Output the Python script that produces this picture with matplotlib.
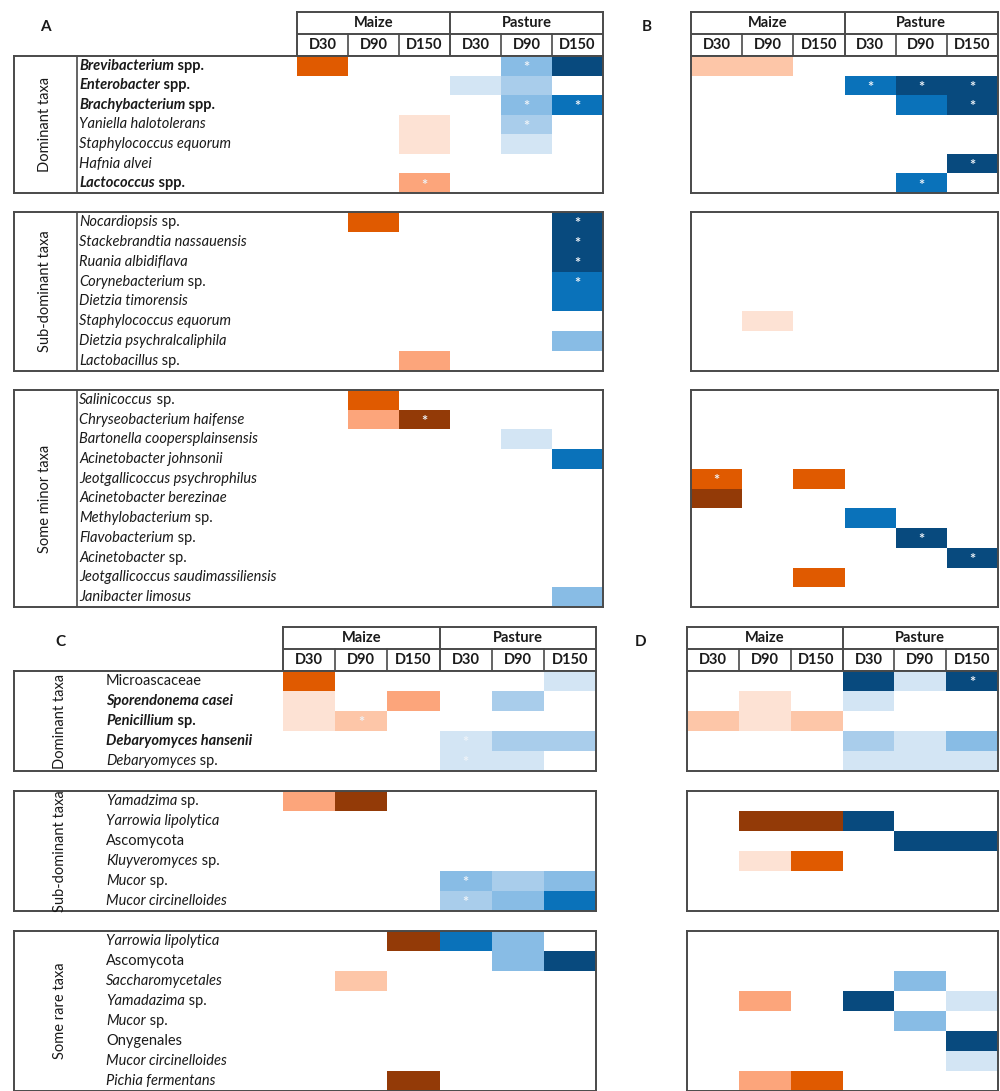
import matplotlib
matplotlib.use("Agg")
import matplotlib.pyplot as plt
from matplotlib.colors import ListedColormap, BoundaryNorm
import numpy as np

plt.rcParams['font.family'] = ['Lato', 'DejaVu Sans']

W, H = 1000, 1091
fig = plt.figure(figsize=(W / 100, H / 100), dpi=100)

# ---------------- data ----------------
conditions = ["Maize", "Pasture"]
days = ["D30", "D90", "D150", "D30", "D90", "D150"]

# level codes: negative = orange scale, positive = blue scale, 0 = blank
level_colors = ['#933A07', '#E05A00', '#FCA57B', '#FDC6A8', '#FDE2D4', '#FFFFFF',
                '#D3E5F4', '#A9CDEB', '#88BCE5', '#0A72BA', '#084A7E']

# ---- bacteria (A, B) ----
bac_dom_taxa = ["Brevibacterium spp.", "Enterobacter spp.", "Brachybacterium spp.",
                "Yaniella halotolerans", "Staphylococcus equorum", "Hafnia alvei",
                "Lactococcus spp."]
bac_dom_bold = [1, 1, 1, 0, 0, 0, 1]
A_dom_vals = [[-4, 0, 0, 0, 3, 5],
              [0, 0, 0, 1, 2, 0],
              [0, 0, 0, 0, 3, 4],
              [0, 0, -1, 0, 2, 0],
              [0, 0, -1, 0, 1, 0],
              [0, 0, 0, 0, 0, 0],
              [0, 0, -3, 0, 0, 0]]
A_dom_star = [[0, 0, 0, 0, 1, 0],
              [0, 0, 0, 0, 0, 0],
              [0, 0, 0, 0, 1, 1],
              [0, 0, 0, 0, 1, 0],
              [0, 0, 0, 0, 0, 0],
              [0, 0, 0, 0, 0, 0],
              [0, 0, 1, 0, 0, 0]]
B_dom_vals = [[-2, -2, 0, 0, 0, 0],
              [0, 0, 0, 4, 5, 5],
              [0, 0, 0, 0, 4, 5],
              [0, 0, 0, 0, 0, 0],
              [0, 0, 0, 0, 0, 0],
              [0, 0, 0, 0, 0, 5],
              [0, 0, 0, 0, 4, 0]]
B_dom_star = [[0, 0, 0, 0, 0, 0],
              [0, 0, 0, 1, 1, 1],
              [0, 0, 0, 0, 0, 1],
              [0, 0, 0, 0, 0, 0],
              [0, 0, 0, 0, 0, 0],
              [0, 0, 0, 0, 0, 1],
              [0, 0, 0, 0, 1, 0]]

bac_sub_taxa = ["Nocardiopsis sp.", "Stackebrandtia nassauensis", "Ruania albidiflava",
                "Corynebacterium sp.", "Dietzia timorensis", "Staphylococcus equorum",
                "Dietzia psychralcaliphila", "Lactobacillus sp."]
bac_sub_bold = [0] * 8
A_sub_vals = [[0, -4, 0, 0, 0, 5],
              [0, 0, 0, 0, 0, 5],
              [0, 0, 0, 0, 0, 5],
              [0, 0, 0, 0, 0, 4],
              [0, 0, 0, 0, 0, 4],
              [0, 0, 0, 0, 0, 0],
              [0, 0, 0, 0, 0, 3],
              [0, 0, -3, 0, 0, 0]]
A_sub_star = [[0, 0, 0, 0, 0, 1],
              [0, 0, 0, 0, 0, 1],
              [0, 0, 0, 0, 0, 1],
              [0, 0, 0, 0, 0, 1],
              [0, 0, 0, 0, 0, 0],
              [0, 0, 0, 0, 0, 0],
              [0, 0, 0, 0, 0, 0],
              [0, 0, 0, 0, 0, 0]]
B_sub_vals = [[0, 0, 0, 0, 0, 0],
              [0, 0, 0, 0, 0, 0],
              [0, 0, 0, 0, 0, 0],
              [0, 0, 0, 0, 0, 0],
              [0, 0, 0, 0, 0, 0],
              [0, -1, 0, 0, 0, 0],
              [0, 0, 0, 0, 0, 0],
              [0, 0, 0, 0, 0, 0]]
B_sub_star = [[0] * 6 for _ in range(8)]

bac_min_taxa = ["Salinicoccus sp.", "Chryseobacterium haifense", "Bartonella coopersplainsensis",
                "Acinetobacter johnsonii", "Jeotgallicoccus psychrophilus", "Acinetobacter berezinae",
                "Methylobacterium sp.", "Flavobacterium sp.", "Acinetobacter sp.",
                "Jeotgallicoccus saudimassiliensis", "Janibacter limosus"]
bac_min_bold = [0] * 11
A_min_vals = [[0, -4, 0, 0, 0, 0],
              [0, -3, -5, 0, 0, 0],
              [0, 0, 0, 0, 1, 0],
              [0, 0, 0, 0, 0, 4],
              [0, 0, 0, 0, 0, 0],
              [0, 0, 0, 0, 0, 0],
              [0, 0, 0, 0, 0, 0],
              [0, 0, 0, 0, 0, 0],
              [0, 0, 0, 0, 0, 0],
              [0, 0, 0, 0, 0, 0],
              [0, 0, 0, 0, 0, 3]]
A_min_star = [[0, 0, 0, 0, 0, 0],
              [0, 0, 1, 0, 0, 0]] + [[0] * 6 for _ in range(9)]
B_min_vals = [[0, 0, 0, 0, 0, 0],
              [0, 0, 0, 0, 0, 0],
              [0, 0, 0, 0, 0, 0],
              [0, 0, 0, 0, 0, 0],
              [-4, 0, -4, 0, 0, 0],
              [-5, 0, 0, 0, 0, 0],
              [0, 0, 0, 4, 0, 0],
              [0, 0, 0, 0, 5, 0],
              [0, 0, 0, 0, 0, 5],
              [0, 0, -4, 0, 0, 0],
              [0, 0, 0, 0, 0, 0]]
B_min_star = [[0, 0, 0, 0, 0, 0],
              [0, 0, 0, 0, 0, 0],
              [0, 0, 0, 0, 0, 0],
              [0, 0, 0, 0, 0, 0],
              [1, 0, 0, 0, 0, 0],
              [0, 0, 0, 0, 0, 0],
              [0, 0, 0, 0, 0, 0],
              [0, 0, 0, 0, 1, 0],
              [0, 0, 0, 0, 0, 1],
              [0, 0, 0, 0, 0, 0],
              [0, 0, 0, 0, 0, 0]]

# ---- fungi (C, D) ----
fun_dom_taxa = ["Microascaceae", "Sporendonema casei", "Penicillium sp.",
                "Debaryomyces hansenii", "Debaryomyces sp."]
fun_dom_bold = [0, 1, 1, 1, 0]
C_dom_vals = [[-4, 0, 0, 0, 0, 1],
              [-1, 0, -3, 0, 2, 0],
              [-1, -2, 0, 0, 0, 0],
              [0, 0, 0, 1, 2, 2],
              [0, 0, 0, 1, 1, 0]]
C_dom_star = [[0, 0, 0, 0, 0, 0],
              [0, 0, 0, 0, 0, 0],
              [0, 1, 0, 0, 0, 0],
              [0, 0, 0, 1, 0, 0],
              [0, 0, 0, 1, 0, 0]]
D_dom_vals = [[0, 0, 0, 5, 1, 5],
              [0, -1, 0, 1, 0, 0],
              [-2, -1, -2, 0, 0, 0],
              [0, 0, 0, 2, 1, 3],
              [0, 0, 0, 1, 1, 1]]
D_dom_star = [[0, 0, 0, 0, 0, 1]] + [[0] * 6 for _ in range(4)]

fun_sub_taxa = ["Yamadzima sp.", "Yarrowia lipolytica", "Ascomycota",
                "Kluyveromyces sp.", "Mucor sp.", "Mucor circinelloides"]
fun_sub_bold = [0] * 6
C_sub_vals = [[-3, -5, 0, 0, 0, 0],
              [0, 0, 0, 0, 0, 0],
              [0, 0, 0, 0, 0, 0],
              [0, 0, 0, 0, 0, 0],
              [0, 0, 0, 3, 2, 3],
              [0, 0, 0, 2, 3, 4]]
C_sub_star = [[0] * 6 for _ in range(4)] + [[0, 0, 0, 1, 0, 0], [0, 0, 0, 1, 0, 0]]
D_sub_vals = [[0, 0, 0, 0, 0, 0],
              [0, -5, -5, 5, 0, 0],
              [0, 0, 0, 0, 5, 5],
              [0, -1, -4, 0, 0, 0],
              [0, 0, 0, 0, 0, 0],
              [0, 0, 0, 0, 0, 0]]
D_sub_star = [[0] * 6 for _ in range(6)]

fun_rare_taxa = ["Yarrowia lipolytica", "Ascomycota", "Saccharomycetales", "Yamadazima sp.",
                 "Mucor sp.", "Onygenales", "Mucor circinelloides", "Pichia fermentans"]
fun_rare_bold = [0] * 8
C_rare_vals = [[0, 0, -5, 4, 3, 0],
               [0, 0, 0, 0, 3, 5],
               [0, -2, 0, 0, 0, 0],
               [0, 0, 0, 0, 0, 0],
               [0, 0, 0, 0, 0, 0],
               [0, 0, 0, 0, 0, 0],
               [0, 0, 0, 0, 0, 0],
               [0, 0, -5, 0, 0, 0]]
C_rare_star = [[0] * 6 for _ in range(8)]
D_rare_vals = [[0, 0, 0, 0, 0, 0],
               [0, 0, 0, 0, 0, 0],
               [0, 0, 0, 0, 3, 0],
               [0, -3, 0, 5, 0, 1],
               [0, 0, 0, 0, 3, 0],
               [0, 0, 0, 0, 0, 5],
               [0, 0, 0, 0, 0, 1],
               [0, -3, -4, 0, 0, 0]]
D_rare_star = [[0] * 6 for _ in range(8)]

upright_taxa = {"Microascaceae", "Ascomycota", "Onygenales"}

# ---------------- drawing ----------------
cmap = ListedColormap(level_colors)
norm = BoundaryNorm(np.arange(-5.5, 6.5, 1), cmap.N)
EDGE = '#4a4a4a'
TXT = '#1a1a1a'
LABEL_FS = 10.5


def px_axes(x0, y0, x1, y1):
    return fig.add_axes([x0 / W, 1 - y1 / H, (x1 - x0) / W, (y1 - y0) / H])


def draw_label(ax, x, y, name, bold):
    words = name.split(" ")
    if name in upright_taxa:
        segs = [(name, 'normal')]
    elif words[-1] in ("sp.", "spp."):
        segs = [(" ".join(words[:-1]), 'italic'), (" " + words[-1], 'normal')]
    else:
        segs = [(name, 'italic')]
    weight = 'bold' if bold else 'normal'
    prev = ax.text(x, y, segs[0][0], style=segs[0][1], weight=weight, fontsize=LABEL_FS,
                   color=TXT, ha='left', va='center')
    for txt, st in segs[1:]:
        prev = ax.annotate(txt, xy=(1, 0.5), xycoords=prev, style=st, weight=weight,
                           fontsize=LABEL_FS, color=TXT, ha='left', va='center')


def draw_group(box_x0, heat_x0, heat_x1, y0, y1, vals, stars, taxa=None, bold=None,
               divider=None, label_x=None, group_label=None, glabel_x=None):
    vals = np.array(vals)
    n = vals.shape[0]
    ax = px_axes(box_x0, y0, heat_x1, y1)
    cw = (heat_x1 - heat_x0) / 6.0
    xmin = -(heat_x0 - box_x0) / cw
    ax.pcolormesh(np.arange(7), np.arange(n + 1), vals, cmap=cmap, norm=norm,
                  shading='flat', edgecolors='none', antialiased=False)
    ax.set_xlim(xmin, 6)
    ax.set_ylim(n, 0)
    ax.set_xticks([])
    ax.set_yticks([])
    for s in ax.spines.values():
        s.set_color(EDGE)
        s.set_linewidth(1.4)
    for i in range(n):
        for j in range(6):
            if stars[i][j]:
                ax.text(j + 0.5, i + 0.62, "*", ha='center', va='center', fontsize=10.5,
                        color='#EEF3F8', weight='bold')
    if divider is not None:
        ax.axvline(-(heat_x0 - divider) / cw, color=EDGE, lw=1.2)
    if taxa is not None:
        lx = -(heat_x0 - label_x) / cw
        for i, name in enumerate(taxa):
            draw_label(ax, lx, i + 0.5, name, bold[i])
    if group_label is not None:
        gx = -(heat_x0 - glabel_x) / cw
        ax.text(gx, n / 2.0, group_label, rotation=90, ha='center', va='center',
                fontsize=10.5, color=TXT)
    return ax


def draw_header(x0, x1, y0, y1):
    ax = px_axes(x0, y0, x1, y1)
    ax.set_xlim(0, 6)
    ax.set_ylim(2, 0)
    ax.set_xticks([])
    ax.set_yticks([])
    for s in ax.spines.values():
        s.set_color(EDGE)
        s.set_linewidth(1.4)
    ax.axhline(1, color=EDGE, lw=1.4)
    ax.axvline(3, color=EDGE, lw=1.4)
    for k in (1, 2, 4, 5):
        ax.plot([k, k], [1, 2], color=EDGE, lw=1.2)
    for k, c in enumerate(conditions):
        ax.text(1.5 + 3 * k, 0.5, c, ha='center', va='center', fontsize=10.5,
                weight='bold', color=TXT)
    for k, d in enumerate(days):
        ax.text(k + 0.5, 1.5, d, ha='center', va='center', fontsize=10.5,
                weight='bold', color=TXT)


# layout (pixels)
bac_groups = [(56, 193), (212, 371), (390, 607)]
fun_groups = [(671, 771), (791, 911), (931, 1091)]

# Panel A
draw_header(297, 603, 12, 56)
for (y0, y1), vals, st, taxa, bd, gl in zip(
        bac_groups, [A_dom_vals, A_sub_vals, A_min_vals], [A_dom_star, A_sub_star, A_min_star],
        [bac_dom_taxa, bac_sub_taxa, bac_min_taxa], [bac_dom_bold, bac_sub_bold, bac_min_bold],
        ["Dominant taxa", "Sub-dominant taxa", "Some minor taxa"]):
    draw_group(14, 297, 603, y0, y1, vals, st, taxa, bd, divider=77, label_x=79,
               group_label=gl, glabel_x=45)

# Panel B
draw_header(691, 998, 12, 56)
for (y0, y1), vals, st in zip(bac_groups, [B_dom_vals, B_sub_vals, B_min_vals],
                              [B_dom_star, B_sub_star, B_min_star]):
    draw_group(691, 691, 998, y0, y1, vals, st)

# Panel C
draw_header(283, 596, 627, 671)
for (y0, y1), vals, st, taxa, bd, gl in zip(
        fun_groups, [C_dom_vals, C_sub_vals, C_rare_vals], [C_dom_star, C_sub_star, C_rare_star],
        [fun_dom_taxa, fun_sub_taxa, fun_rare_taxa], [fun_dom_bold, fun_sub_bold, fun_rare_bold],
        ["Dominant taxa", "Sub-dominant taxa", "Some rare taxa"]):
    draw_group(14, 283, 596, y0, y1, vals, st, taxa, bd, label_x=106,
               group_label=gl, glabel_x=60)

# Panel D
draw_header(687, 998, 627, 671)
for (y0, y1), vals, st in zip(fun_groups, [D_dom_vals, D_sub_vals, D_rare_vals],
                              [D_dom_star, D_sub_star, D_rare_star]):
    draw_group(687, 687, 998, y0, y1, vals, st)

# panel letters
for letter, (x, y) in {"A": (45, 27), "B": (647, 27), "C": (60, 642), "D": (641, 642)}.items():
    fig.text(x / W, 1 - y / H, letter, ha='center', va='center', fontsize=11,
             weight='bold', color=TXT)

fig.savefig("out.png", dpi=100, facecolor='white')
